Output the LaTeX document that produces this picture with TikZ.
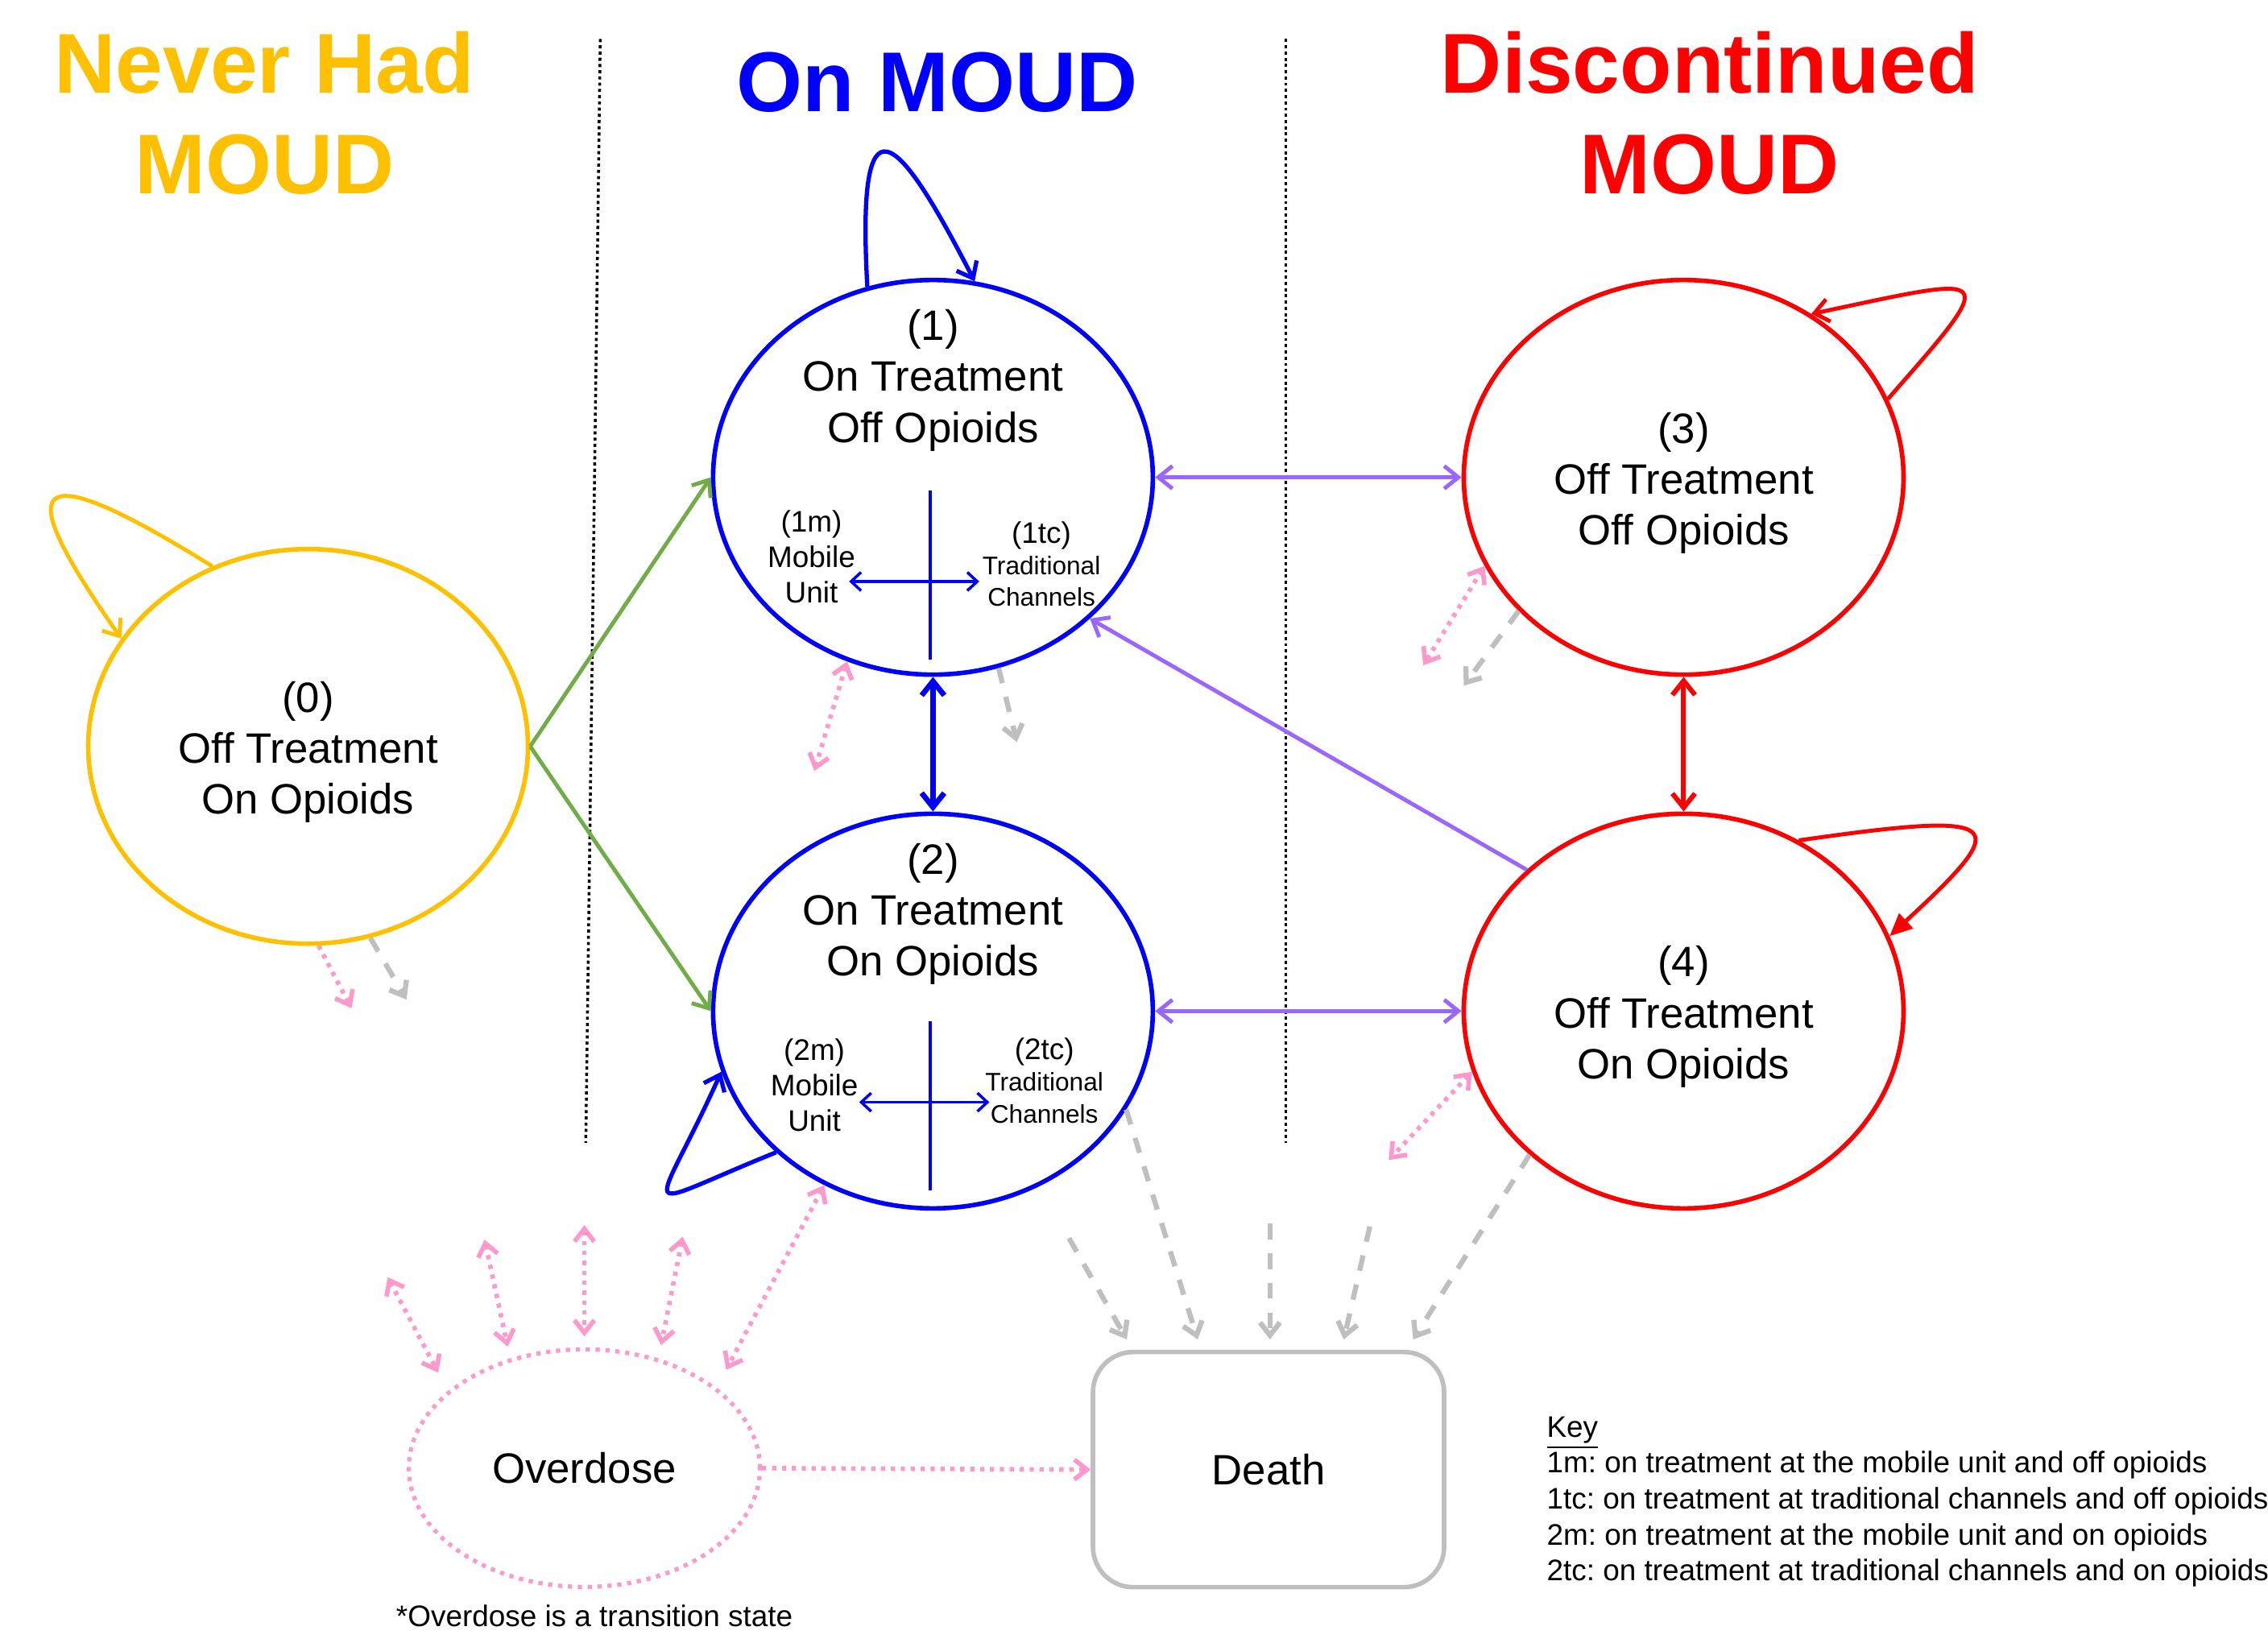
\documentclass[tikz,border=0pt]{standalone}
\usepackage{fontspec}
\setmainfont{Liberation Sans}
\usepackage{tikz}
\usetikzlibrary{shapes}
\usetikzlibrary{arrows.meta}
\frenchspacing
\definecolor{moudyellow}{RGB}{255,192,0}
\definecolor{moudblue}{RGB}{0,0,255}
\definecolor{moudred}{RGB}{255,0,0}
\definecolor{moudgreen}{RGB}{112,173,71}
\definecolor{moudpurple}{RGB}{153,102,255}
\definecolor{odpink}{RGB}{255,153,204}
\definecolor{deathgray}{RGB}{191,191,191}
\tikzstyle{heading}=[align=center,inner sep=0pt,font=\fontsize{30}{35.6}\selectfont\bfseries]
\tikzstyle{state}=[
        ellipse,
        draw,
        line width=1.6pt,
        minimum width=5.46cm,
        minimum height=4.9cm,
        inner sep=0pt
]
\tikzstyle{caption}=[align=center,inner sep=0pt,font=\fontsize{15}{18}\selectfont]
\tikzstyle{mlabel}=[align=center,inner sep=0pt,font=\fontsize{10.5}{12.5}\selectfont]
\tikzstyle{tclabel}=[align=center,inner sep=0pt,font=\fontsize{9}{11.2}\selectfont]
\tikzstyle{overdose}=[ellipse,draw=odpink,line width=1.5pt,dash pattern=on 1.5pt off 2pt,
minimum width=4.36cm,minimum height=2.95cm,font=\fontsize{15}{18}\selectfont]
\tikzstyle{death}=[rectangle,draw=deathgray,line width=1.6pt,rounded corners=0.5cm,
minimum width=4.36cm,minimum height=2.92cm,font=\fontsize{15}{18}\selectfont]
\tikzstyle{note}=[align=left,inner sep=0pt,font=\fontsize{10.5}{12.7}\selectfont]
\tikzstyle{divider}=[black,line width=1pt,dash pattern=on 1.1pt off 1.1pt]
\tikzstyle{link}=[>={Straight Barb[length=5pt,width=8pt]},line width=1.4pt]
\tikzstyle{cross}=[moudblue,line width=1pt,>={Straight Barb[length=3.5pt,width=6.5pt]}]
\tikzstyle{odlink}=[odpink,line width=1.6pt,dash pattern=on 1.5pt off 2pt,
>={Straight Barb[length=4.5pt,width=7pt]}]
\tikzstyle{deathlink}=[deathgray,line width=1.8pt,dash pattern=on 5.5pt off 5pt,
>={Straight Barb[length=4.5pt,width=7pt]}]

\begin{document}
\begin{tikzpicture}[x=0.01796cm,y=-0.01796cm]
\useasboundingbox (0,0) rectangle (1568,1133);
\node[heading,text=moudyellow] (never) at (183,78) {Never Had\\MOUD};
\node[heading,text=moudblue] (onmoud) at (648,57) {On MOUD};
\node[heading,text=moudred] (disc) at (1182,78) {Discontinued\\MOUD};
\draw[divider] (415,27) -- (405,790);
\draw[divider] (889,27) -- (889,790);
\node[state,draw=moudyellow] (n0) at (213,516) {};
\node[caption] (t0) at (213,520) {(0)\\Off Treatment\\On Opioids};
\node[state,draw=moudblue] (n1) at (645,330) {};
\node[caption] (t1) at (645,263) {(1)\\On Treatment\\Off Opioids};
\node[state,draw=moudblue] (n2) at (645,699) {};
\node[caption] (t2) at (645,632) {(2)\\On Treatment\\On Opioids};
\node[state,draw=moudred] (n3) at (1164,330) {};
\node[caption] (t3) at (1164,334) {(3)\\Off Treatment\\Off Opioids};
\node[state,draw=moudred] (n4) at (1164,699) {};
\node[caption] (t4) at (1164,703) {(4)\\Off Treatment\\On Opioids};
\node[mlabel] (m1) at (561,385) {(1m)\\Mobile\\Unit};
\node[tclabel] (tc1) at (720,390) {{\fontsize{10.5}{12}\selectfont (1tc)}\\Traditional\\Channels};
\node[mlabel] (m2) at (563,750) {(2m)\\Mobile\\Unit};
\node[tclabel] (tc2) at (722,747) {{\fontsize{10.5}{12}\selectfont (2tc)}\\Traditional\\Channels};
\node[overdose] (od) at (404,1015) {Overdose};
\node[death] (death) at (877,1016) {Death};
\node[note] (odnote) at (411,1117) {*Overdose is a transition state};
\node[note,anchor=north west] (key) at (1069,979) {\underline{Key}\\
1m: on treatment at the mobile unit and off opioids\\
1tc: on treatment at traditional channels and off opioids\\
2m: on treatment at the mobile unit and on opioids\\
2tc: on treatment at traditional channels and on opioids};
%free ends
\coordinate (c1t) at (643,339);
\coordinate (c1b) at (643,456);
\coordinate (c1l) at (587,402);
\coordinate (c1r) at (677,402);
\coordinate (c2t) at (643,706);
\coordinate (c2b) at (643,823);
\coordinate (c2l) at (594,762);
\coordinate (c2r) at (684,762);
\coordinate (p0) at (243,697);
\coordinate (p1) at (563,533);
\coordinate (p3) at (984,460);
\coordinate (p4) at (960,802);
\coordinate (pe) at (502,947);
\coordinate (pa1) at (268,883);
\coordinate (pa2) at (303,949);
\coordinate (pb1) at (335,857);
\coordinate (pb2) at (351,931);
\coordinate (pc1) at (404,847);
\coordinate (pc2) at (404,924);
\coordinate (pd1) at (472,855);
\coordinate (pd2) at (457,930);
\coordinate (g0) at (281,691);
\coordinate (g1) at (703,513);
\coordinate (g3) at (1012,474);
\coordinate (da1) at (739,856);
\coordinate (da2) at (779,926);
\coordinate (db2) at (828,926);
\coordinate (dc1) at (878,846);
\coordinate (dc2) at (878,926);
\coordinate (dd1) at (947,848);
\coordinate (dd2) at (929,926);
\coordinate (de2) at (977,926);
%channels
\draw[cross] (c1t) -- (c1b);
\draw[cross,<->] (c1l) -- (c1r);
\draw[cross] (c2t) -- (c2b);
\draw[cross,<->] (c2l) -- (c2r);
%transitions
\draw[link,moudgreen,->] (n0.east) -- (n1.west);
\draw[link,moudgreen,->] (n0.east) -- (n2.west);
\draw[link,moudblue,<->,line width=1.9pt] (n1.south) -- (n2.north);
\draw[link,moudpurple,<->] (n1.east) -- (n3.west);
\draw[link,moudpurple,<->] (n2.east) -- (n4.west);
\draw[link,moudpurple,->] (n4.138) -- (n1.318);
\draw[link,moudred,<->,line width=1.7pt] (n3.south) -- (n4.north);
\draw[link,moudyellow,->] (n0.118) .. controls (0,300) and (20,350) .. (n0.150);
\draw[link,moudblue,->,line width=1.5pt] (n1.109) .. controls (592,60) and (620,90) .. (n1.78);
\draw[link,moudblue,->,line width=1.5pt] (n2.222) .. controls (434,838) and (452,845) .. (n2.196);
\draw[link,moudred,->] (n3.21) .. controls (1385,185) and (1380,190) .. (n3.52);
\draw[link,moudred,-{Triangle[length=8pt,width=7pt]}] (n4.56) .. controls (1390,560) and (1392,568) .. (n4.20);
%overdose
\draw[odlink,->] (n0.273) -- (p0);
\draw[odlink,<->] (n1.245) -- (p1);
\draw[odlink,<->] (n2.238) -- (pe);
\draw[odlink,<->] (n3.204) -- (p3);
\draw[odlink,<->] (n4.196) -- (p4);
\draw[odlink,<->] (pa1) -- (pa2);
\draw[odlink,<->] (pb1) -- (pb2);
\draw[odlink,<->] (pc1) -- (pc2);
\draw[odlink,<->] (pd1) -- (pd2);
\draw[odlink,->] (od.east) -- (death.west);
%death
\draw[deathlink,->] (n0.288) -- (g0);
\draw[deathlink,->] (n1.289) -- (g1);
\draw[deathlink,->] (n3.219) -- (g3);
\draw[deathlink,->] (da1) -- (da2);
\draw[deathlink,->] (n2.333) -- (db2);
\draw[deathlink,->] (dc1) -- (dc2);
\draw[deathlink,->] (dd1) -- (dd2);
\draw[deathlink,->] (n4.223) -- (de2);
\end{tikzpicture}
\end{document}
